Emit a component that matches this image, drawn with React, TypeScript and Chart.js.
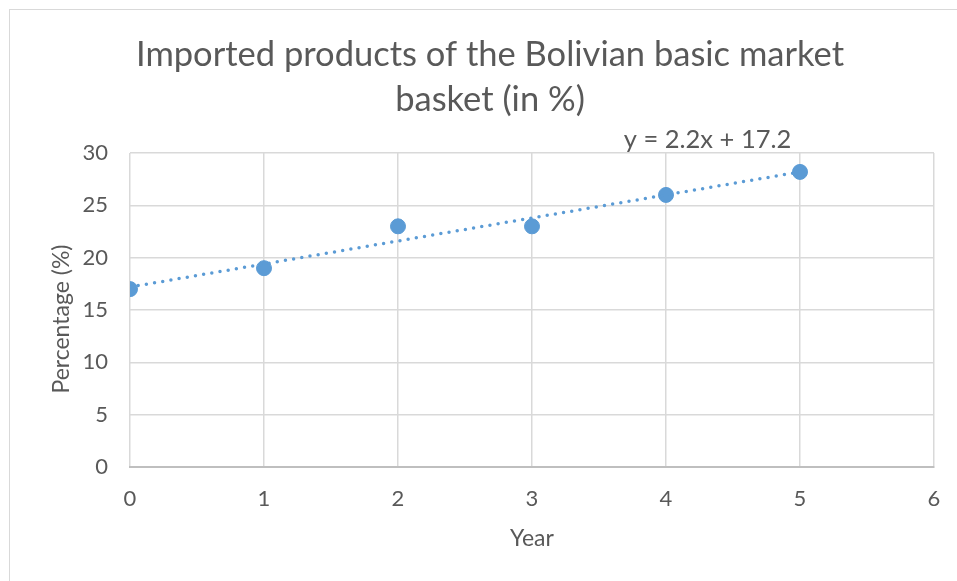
import React, { useEffect, useRef } from "react";
import { Chart, registerables } from "chart.js";

Chart.register(...registerables);

const titleLines = ["Imported products of the Bolivian basic market", "basket (in %)"];
const years = [0, 1, 2, 3, 4, 5];
const percentages = [17, 19, 23, 23, 26, 28.2];
const trendYears = [0, 5];
const trendValues = [17.2, 28.2];
const trendLabel = "y = 2.2x + 17.2";
const xTitle = "Year";
const yTitle = "Percentage (%)";
const xTicks = [0, 1, 2, 3, 4, 5, 6];
const yTicks = [0, 5, 10, 15, 20, 25, 30];

const FONT = "Lato, 'Open Sans', sans-serif";
const TEXT = "#595959";
const BLUE = "#5b9bd5";
const GRID = "#d9d9d9";

const labelPlugin = {
  id: "extraLabels",
  afterDatasetsDraw(chart: any) {
    const { ctx, scales } = chart;
    const x = scales.x.getPixelForValue(4.31);
    const y = scales.y.getPixelForValue(30) - 13;
    ctx.save();
    ctx.font = `25.5px ${FONT}`;
    ctx.fillStyle = TEXT;
    ctx.textAlign = "center";
    ctx.textBaseline = "middle";
    ctx.fillText(trendLabel, x, y);
    // y-axis title, centred a little below the plot middle as in the original
    const ty = (scales.y.top + scales.y.bottom) / 2 + 9;
    ctx.translate(scales.y.left + 16, ty);
    ctx.rotate(-Math.PI / 2);
    ctx.font = `23px ${FONT}`;
    ctx.fillText(yTitle, 0, 0);
    ctx.restore();
  },
};

export default function App() {
  const ref = useRef<HTMLCanvasElement>(null);
  useEffect(() => {
    if (!ref.current) return;
    const chart = new Chart(ref.current, {
      type: "scatter",
      data: {
        datasets: [
          {
            label: "Trend",
            data: trendYears.map((x, i) => ({ x, y: trendValues[i] })),
            showLine: true,
            borderColor: BLUE,
            borderWidth: 3.5,
            borderDash: [0, 8.3],
            borderCapStyle: "round",
            pointRadius: 0,
            fill: false,
          } as any,
          {
            label: "Percentage",
            data: years.map((x, i) => ({ x, y: percentages[i] })),
            backgroundColor: BLUE,
            borderColor: BLUE,
            pointRadius: 7.5,
            pointHoverRadius: 7.5,
          },
        ],
      },
      options: {
        animation: false,
        responsive: false,
        maintainAspectRatio: false,
        layout: { padding: { left: 46, right: 23, top: 0, bottom: 0 } },
        plugins: {
          legend: { display: false },
          tooltip: { enabled: false },
          title: {
            display: true,
            text: titleLines,
            color: TEXT,
            font: { family: FONT, size: 34.5, weight: "normal", lineHeight: 1.32 },
            padding: { top: 32, bottom: 30 },
          },
        },
        scales: {
          x: {
            type: "linear",
            min: 0,
            max: 6,
            afterBuildTicks: (s: any) => {
              s.ticks = xTicks.map((v) => ({ value: v }));
            },
            afterFit: (s: any) => {
              s.height = 114;
              s.paddingLeft = 0;
              s.paddingRight = 0;
            },
            grid: { color: GRID, lineWidth: 1.5, drawTicks: false },
            border: { color: "#bfbfbf", width: 2 },
            ticks: { color: TEXT, font: { family: FONT, size: 22 }, padding: 19 },
            title: {
              display: true,
              text: xTitle,
              color: TEXT,
              font: { family: FONT, size: 23 },
              padding: { top: 0, bottom: 29 },
            },
          },
          y: {
            type: "linear",
            min: 0,
            max: 30,
            afterBuildTicks: (s: any) => {
              s.ticks = yTicks.map((v) => ({ value: v }));
            },
            afterFit: (s: any) => {
              s.width = 84;
            },
            grid: { color: GRID, lineWidth: 1.5, drawTicks: false },
            border: { display: false },
            ticks: { color: TEXT, font: { family: FONT, size: 22 }, padding: 22 },
            title: { display: false },
          },
        },
      },
      plugins: [labelPlugin],
    });
    return () => chart.destroy();
  }, []);
  return (
    <div style={{ position: "fixed", left: 0, top: 0, width: 957, height: 581, overflow: "hidden", background: "#fff" }}>
      <div style={{ position: "absolute", left: 9, top: 9, width: 1200, height: 1200, border: "1px solid #d9d9d9", boxSizing: "border-box" }} />
      <canvas ref={ref} width={957} height={581} style={{ position: "absolute", left: 0, top: 0 }} />
    </div>
  );
}
